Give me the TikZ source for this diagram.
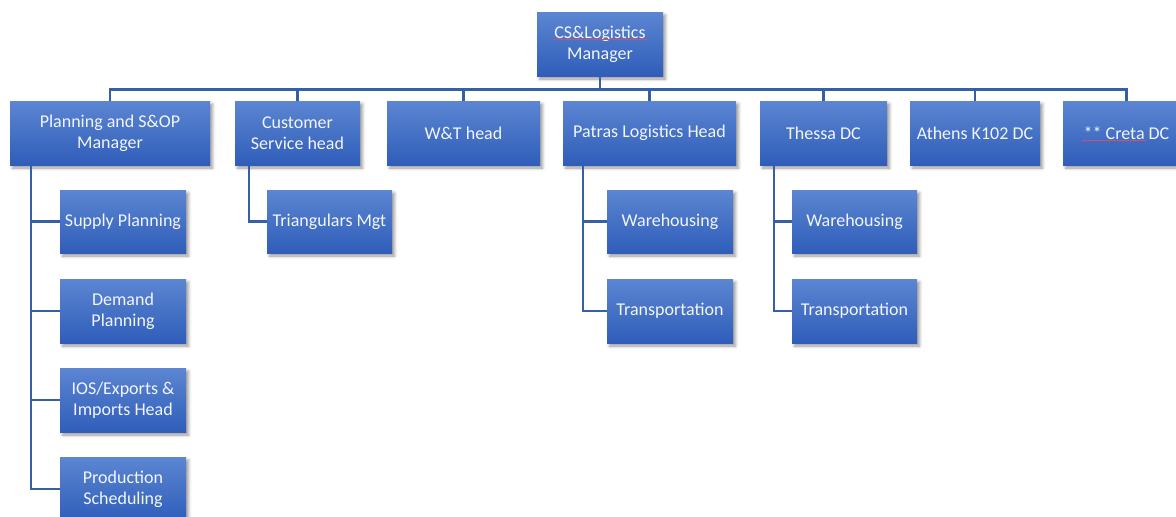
\documentclass[tikz,border=0pt]{standalone}
\usepackage{fontspec}
\setmainfont{Carlito}
\usetikzlibrary{shadows.blur}
\definecolor{boxtop}{HTML}{5C86D2}
\definecolor{boxbot}{HTML}{2F5DB9}
\definecolor{linkc}{HTML}{3560A8}
\definecolor{txt}{HTML}{F2F5FB}
\definecolor{squig}{HTML}{D0506A}
\tikzset{
  orgbox/.style={shading=axis, top color=boxtop, bottom color=boxbot,
    text=txt, align=center, inner sep=1pt,
    font=\fontsize{18}{21}\selectfont,
    blur shadow={shadow xshift=2.5pt, shadow yshift=-3pt, shadow blur radius=3pt, shadow opacity=40}},
  link/.style={draw=linkc, line width=2.6pt},
  spell/.style={draw=squig, line width=0.8pt}
}
\begin{document}
\begin{tikzpicture}[x=1pt,y=-1pt]
\useasboundingbox (0,0) rectangle (1176,517);
\begin{scope}
\clip (0,0) rectangle (1176,517);
% top manager
\node[orgbox, minimum width=126pt, minimum height=64pt] (top) at (600,44) {CS\&Logistics\\Manager};
% direct reports
\node[orgbox, minimum width=200pt, minimum height=64pt] (plan) at (110,133) {Planning and S\&OP\\Manager};
\node[orgbox, minimum width=125pt, minimum height=64pt] (cust) at (297.5,133) {Customer\\Service head};
\node[orgbox, minimum width=153pt, minimum height=64pt] (wt) at (463.5,133) {W\&T head};
\node[orgbox, minimum width=173pt, minimum height=64pt] (patras) at (649.5,133) {Patras Logistics Head};
\node[orgbox, minimum width=127pt, minimum height=64pt] (thessa) at (823.5,133) {Thessa DC};
\node[orgbox, minimum width=130pt, minimum height=64pt] (athens) at (975,133) {Athens K102 DC};
\node[orgbox, minimum width=127pt, minimum height=64pt] (creta) at (1126.5,133) {** Creta DC};
% planning team
\node[orgbox, minimum width=126pt, minimum height=63pt] (supply) at (123,221.5) {Supply Planning};
\node[orgbox, minimum width=126pt, minimum height=64pt] (demand) at (123,311) {Demand\\Planning};
\node[orgbox, minimum width=126pt, minimum height=64pt] (ios) at (123,400) {IOS/Exports \&\\Imports Head};
\node[orgbox, minimum width=126pt, minimum height=64pt] (prod) at (123,489) {Production\\Scheduling};
% customer service team
\node[orgbox, minimum width=125pt, minimum height=63pt] (tri) at (329.5,221.5) {Triangulars Mgt};
% Patras team
\node[orgbox, minimum width=126pt, minimum height=63pt] (pwh) at (670,221.5) {Warehousing};
\node[orgbox, minimum width=126pt, minimum height=64pt] (ptr) at (670,311) {Transportation};
% Thessa team
\node[orgbox, minimum width=125pt, minimum height=63pt] (twh) at (854.5,221.5) {Warehousing};
\node[orgbox, minimum width=125pt, minimum height=64pt] (ttr) at (854.5,311) {Transportation};
% spelling marks under the flagged words
\draw[spell] ([xshift=-47pt,yshift=4.5pt]top.center) -- ([xshift=47pt,yshift=4.5pt]top.center);
\draw[spell] ([xshift=-44.5pt,yshift=-7.5pt]creta.center) -- ([xshift=19.5pt,yshift=-7.5pt]creta.center);
% bus from the manager to the direct reports
\begin{scope}[link]
\foreach \n in {plan,cust,wt,patras,thessa,athens,creta}
  \draw (top.south) -- ++(0,13) -| (\n.north);
% child branches
\foreach \n in {supply,demand,ios,prod}
  \draw ([xshift=21pt]plan.south west) |- (\n.west);
\draw ([xshift=14pt]cust.south west) |- (tri.west);
\foreach \n in {pwh,ptr}
  \draw ([xshift=20pt]patras.south west) |- (\n.west);
\foreach \n in {twh,ttr}
  \draw ([xshift=14pt]thessa.south west) |- (\n.west);
\end{scope}
\end{scope}
\end{tikzpicture}
\end{document}
